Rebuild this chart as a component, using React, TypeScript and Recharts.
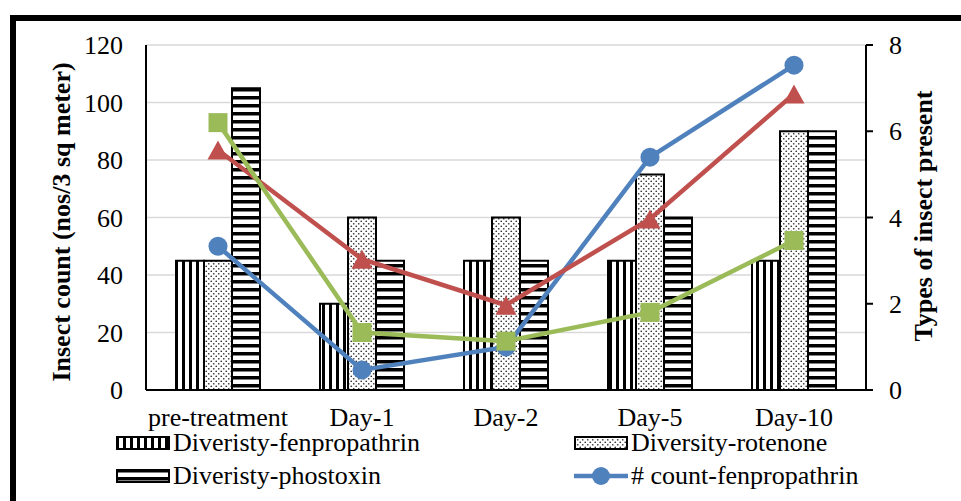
import React from 'react';
import { ComposedChart, Bar, Line, XAxis, YAxis, CartesianGrid, Legend } from 'recharts';

const DAYS = ['pre-treatment', 'Day-1', 'Day-2', 'Day-5', 'Day-10'];

// diversity = types of insect present (right axis)
const DIV_FENPROPATHRIN = [3, 2, 3, 3, 3];
const DIV_ROTENONE = [3, 4, 4, 5, 6];
const DIV_PHOSTOXIN = [7, 3, 3, 4, 6];

// insect count (left axis)
const COUNT_FENPROPATHRIN = [50, 7, 15, 81, 113];
const COUNT_ROTENONE = [83.5, 45.5, 29.5, 59.5, 103];
const COUNT_PHOSTOXIN = [93, 20, 17, 27, 52];

const LEFT_TICKS = [0, 20, 40, 60, 80, 100, 120];
const RIGHT_TICKS = [0, 2, 4, 6, 8];

// legend order as in the source (bars first, then lines)
const SERIES_KEYS = ['divFen', 'divRot', 'divPho', 'cntFen', 'cntRot', 'cntPho'];
const SERIES_NAMES = [
  'Diveristy-fenpropathrin',
  'Diversity-rotenone',
  'Diveristy-phostoxin',
  '# count-fenpropathrin',
  '# count-rotenone',
  '# count-phostoxin',
];

const data = DAYS.map((day, i) => ({
  day,
  divFen: DIV_FENPROPATHRIN[i],
  divRot: DIV_ROTENONE[i],
  divPho: DIV_PHOSTOXIN[i],
  cntFen: COUNT_FENPROPATHRIN[i],
  cntRot: COUNT_ROTENONE[i],
  cntPho: COUNT_PHOSTOXIN[i],
}));

const FONT = '"Liberation Serif", "Times New Roman", serif';
const BLUE = '#4F81BD';
const RED = '#C0504D';
const GREEN = '#9BBB59';

const circleDot = (props: any) => {
  const { cx, cy, index } = props;
  if (cx == null || cy == null) return <g key={`c-${index}`} />;
  return <circle key={`c-${index}`} cx={cx} cy={cy} r={9.5} fill={BLUE} />;
};

const triangleDot = (props: any) => {
  const { cx, cy, index } = props;
  if (cx == null || cy == null) return <g key={`t-${index}`} />;
  return (
    <path
      key={`t-${index}`}
      d={`M${cx},${cy - 9.5} L${cx + 10.5},${cy + 9.5} L${cx - 10.5},${cy + 9.5} Z`}
      fill={RED}
    />
  );
};

const squareDot = (props: any) => {
  const { cx, cy, index } = props;
  if (cx == null || cy == null) return <g key={`s-${index}`} />;
  return <rect key={`s-${index}`} x={cx - 9.5} y={cy - 9.5} width={19} height={19} fill={GREEN} />;
};

const LegendIcon = ({ id }: { id: string }) => {
  if (id === 'divFen' || id === 'divRot' || id === 'divPho') {
    const fill = id === 'divFen' ? 'url(#vstripe)' : id === 'divRot' ? 'url(#dots)' : 'url(#hstripe)';
    return (
      <svg width={54} height={14} style={{ display: 'block' }}>
        <rect x={1} y={1} width={52} height={12} fill={fill} stroke="#000" strokeWidth={2} />
      </svg>
    );
  }
  const color = id === 'cntFen' ? BLUE : id === 'cntRot' ? RED : GREEN;
  return (
    <svg width={54} height={22} style={{ display: 'block' }}>
      <line x1={0} y1={11} x2={54} y2={11} stroke={color} strokeWidth={4.5} />
      {id === 'cntFen' && <circle cx={27} cy={11} r={9} fill={color} />}
      {id === 'cntRot' && <path d="M27,1.5 L37.5,20.5 L16.5,20.5 Z" fill={color} />}
      {id === 'cntPho' && <rect x={17.5} y={1.5} width={19} height={19} fill={color} />}
    </svg>
  );
};

// the source picture is cropped below the second legend row
const renderLegend = () => (
  <div style={{ display: 'flex', flexWrap: 'wrap', width: 916, height: 66, overflow: 'hidden', fontFamily: FONT, fontSize: 26, color: '#000' }}>
    {SERIES_KEYS.map((key, i) => (
      <div key={key} style={{ width: 458, height: 33, display: 'flex', alignItems: 'center' }}>
        <LegendIcon id={key} />
        <span style={{ marginLeft: 3, whiteSpace: 'nowrap', lineHeight: '33px' }}>{SERIES_NAMES[i]}</span>
      </div>
    ))}
  </div>
);

const App: React.FC = () => {
  return (
    <div style={{ position: 'relative', width: 961, height: 501, overflow: 'hidden', background: '#fff' }}>
      <style>{'body{margin:0;overflow:hidden}'}</style>
      {/* outer frame, cut off at the right and bottom like the source image */}
      <div
        style={{
          position: 'absolute',
          left: 10,
          top: 15,
          width: 1000,
          height: 600,
          borderLeft: '6px solid #000',
          borderTop: '6px solid #000',
        }}
      />
      <div style={{ position: 'absolute', left: 0, top: 0 }}>
        <ComposedChart
          width={961}
          height={501}
          data={data}
          margin={{ top: 45, right: 0, left: 46, bottom: 71 }}
          barCategoryGap={30}
          barGap={0}
          style={{ fontFamily: FONT }}
        >
          <defs>
            <pattern id="vstripe" patternUnits="userSpaceOnUse" width={7} height={7}>
              <rect width={7} height={7} fill="#fff" />
              <rect x={0} y={0} width={3} height={7} fill="#000" />
            </pattern>
            <pattern id="hstripe" patternUnits="userSpaceOnUse" width={8} height={8}>
              <rect width={8} height={8} fill="#fff" />
              <rect x={0} y={0} width={8} height={3.5} fill="#000" />
            </pattern>
            <pattern id="dots" patternUnits="userSpaceOnUse" width={5} height={5}>
              <rect width={5} height={5} fill="#fff" />
              <circle cx={1.25} cy={1.25} r={0.85} fill="#333" />
              <circle cx={3.75} cy={3.75} r={0.85} fill="#333" />
            </pattern>
          </defs>
          <CartesianGrid yAxisId="left" vertical={false} stroke="#d9d9d9" strokeWidth={1.5} />
          <XAxis
            dataKey="day"
            interval={0}
            height={40}
            tickLine={false}
            tickMargin={12}
            axisLine={{ stroke: '#000', strokeWidth: 2 }}
            tick={{ fontSize: 26, fill: '#000', fontFamily: FONT }}
          />
          <YAxis
            yAxisId="left"
            domain={[0, 120]}
            ticks={LEFT_TICKS}
            width={100}
            tickLine={false}
            tickMargin={17}
            axisLine={{ stroke: '#000', strokeWidth: 2 }}
            tick={{ fontSize: 26, fill: '#000', fontFamily: FONT }}
            label={() => (
              <text
                x={70}
                y={222}
                transform="rotate(-90 70 222)"
                textAnchor="middle"
                fontFamily={FONT}
                fontWeight="bold"
                fontSize={26}
                fill="#000"
              >
                Insect count (nos/3 sq meter)
              </text>
            )}
          />
          <YAxis
            yAxisId="right"
            orientation="right"
            domain={[0, 8]}
            ticks={RIGHT_TICKS}
            width={95}
            tickSize={7}
            tickMargin={16}
            tickLine={{ stroke: '#000', strokeWidth: 2 }}
            axisLine={{ stroke: '#000', strokeWidth: 2 }}
            tick={{ fontSize: 26, fill: '#000', fontFamily: FONT, textAnchor: 'start' }}
            label={() => (
              <text
                x={932}
                y={216}
                transform="rotate(-90 932 216)"
                textAnchor="middle"
                fontFamily={FONT}
                fontWeight="bold"
                fontSize={26}
                fill="#000"
              >
                Types of insect present
              </text>
            )}
          />
          <Bar yAxisId="right" dataKey="divFen" name={SERIES_NAMES[0]} fill="url(#vstripe)" stroke="#000" strokeWidth={2} isAnimationActive={false} />
          <Bar yAxisId="right" dataKey="divRot" name={SERIES_NAMES[1]} fill="url(#dots)" stroke="#000" strokeWidth={2} isAnimationActive={false} />
          <Bar yAxisId="right" dataKey="divPho" name={SERIES_NAMES[2]} fill="url(#hstripe)" stroke="#000" strokeWidth={2} isAnimationActive={false} />
          <Line yAxisId="left" type="linear" dataKey="cntFen" name={SERIES_NAMES[3]} stroke={BLUE} strokeWidth={4.5} dot={circleDot} activeDot={false} isAnimationActive={false} />
          <Line yAxisId="left" type="linear" dataKey="cntRot" name={SERIES_NAMES[4]} stroke={RED} strokeWidth={4.5} dot={triangleDot} activeDot={false} isAnimationActive={false} />
          <Line yAxisId="left" type="linear" dataKey="cntPho" name={SERIES_NAMES[5]} stroke={GREEN} strokeWidth={4.5} dot={squareDot} activeDot={false} isAnimationActive={false} />
          <Legend
            layout="horizontal"
            verticalAlign="middle"
            align="center"
            wrapperStyle={{ top: 426, left: 116, width: 916 }}
            content={renderLegend}
          />
        </ComposedChart>
      </div>
    </div>
  );
};

export default App;
